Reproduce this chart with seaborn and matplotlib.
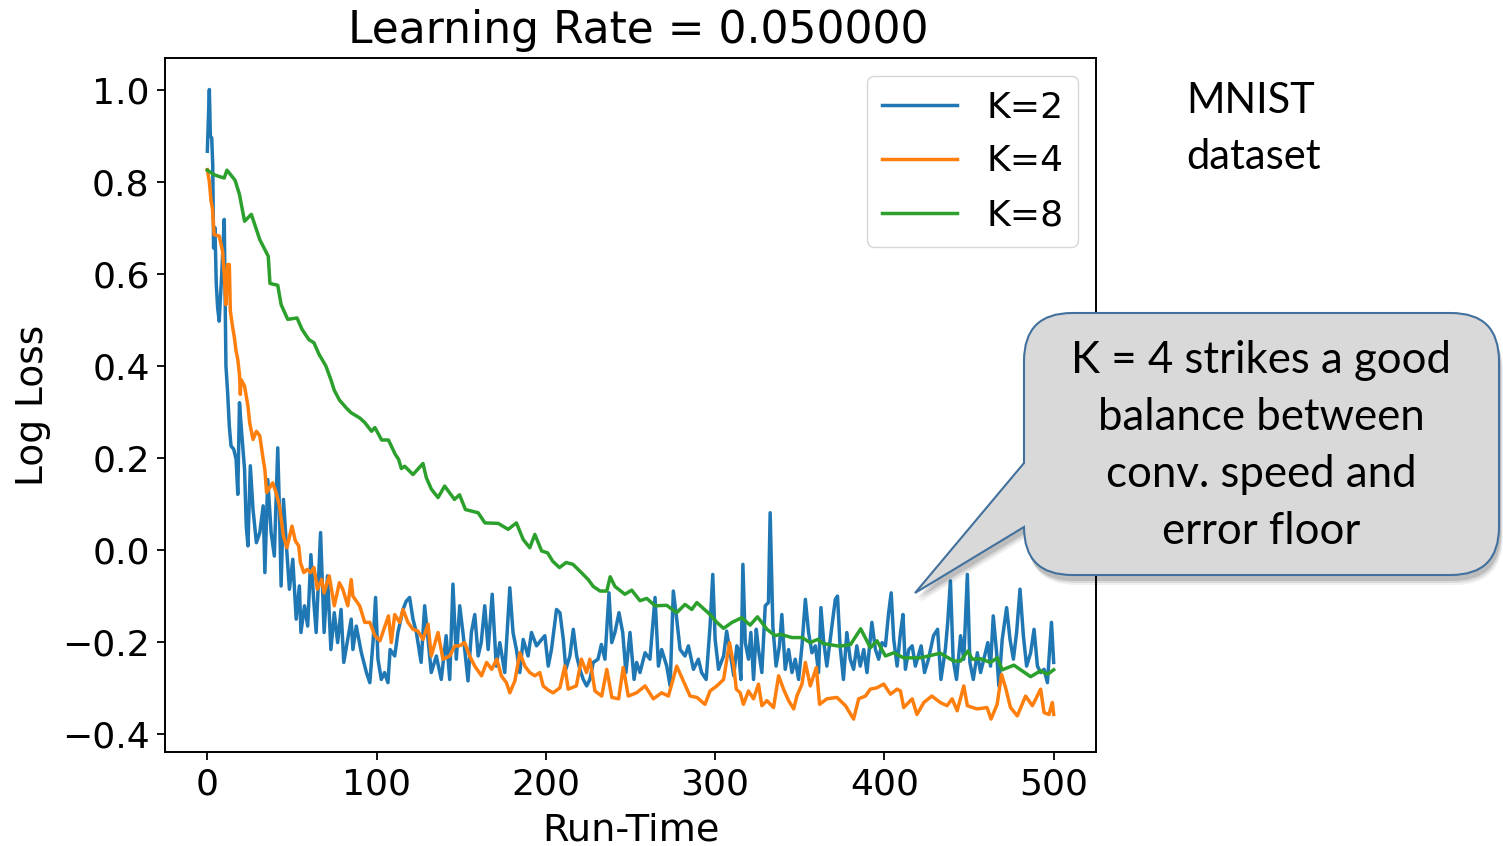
import matplotlib
matplotlib.use("Agg")
import matplotlib.pyplot as plt
import pandas as pd
import seaborn as sns
from matplotlib.patches import PathPatch
from matplotlib.path import Path

# ---- data ----
k2_t = [0, 1.2, 1.8, 2.6, 3.2, 3.7, 4.5, 5.3, 6.1, 7, 8.5, 10, 11, 12, 13, 14, 15.6, 17, 18, 19,
        20, 22, 23, 24, 25.4, 27, 29, 31, 33, 34, 35.7, 37.7, 39.6, 41.6, 42.6, 43.6, 45, 46.6, 48.5, 50.5,
        52.5, 54.4, 55.3, 57.4, 59.3, 61.2, 62.8, 64.3, 66.9, 69, 71, 73, 75, 77, 79, 80.6, 82.3, 85, 86, 88,
        91, 94, 96, 98, 99.4, 100.8, 102.8, 104.7, 106.7, 108, 110.7, 112.6, 115.6, 117.5, 119.5, 121.5,
        123.5, 126.3, 128.4, 130.4, 132.3, 135.3, 138.2, 141.1, 143.2, 145.1, 147.1, 149.1, 151, 154, 156,
        158, 160, 161.8, 163.9, 165.9, 168.3, 170.7, 172.8, 175.7, 178.7, 180.6, 182.6, 184.6, 186.6, 189.5,
        191.5, 194.5, 197.5, 199.4, 201.4, 203.3, 206.3, 208.3, 210.3, 211.8, 214.2, 216.2, 218.2, 220.1,
        222.1, 224.1, 226, 228, 230.8, 232.8, 234.9, 237.3, 238.9, 240.8, 243.2, 245.4, 247.3, 249.7, 252.1,
        253.6, 255.6, 258.6, 261.5, 264.5, 266.5, 268.4, 271.4, 273.4, 275.3, 277.3, 279.3, 282.2, 284.2,
        287.2, 290.1, 292, 294.7, 297, 298.6, 300, 302, 305, 306.8, 308.9, 311, 312.8, 313.8, 315.2, 316.4,
        317.8, 319.7, 321.1, 322.7, 324.3, 325.6, 327.6, 329.6, 331.5, 332.5, 334.1, 336, 338, 339.4, 341.4,
        343.4, 345.4, 347.3, 349.3, 351.3, 353.3, 355.2, 357.2, 359.2, 361.1, 362.5, 364, 366, 369, 371,
        372.3, 373.8, 375.8, 377.8, 379.8, 381.8, 383.7, 385.7, 387.8, 389.7, 392.6, 394.7, 396.6, 398.6,
        400.6, 402.5, 404, 405.5, 407.5, 409.5, 411, 412.4, 414.4, 416.4, 418.3, 421.7, 423.7, 426, 429,
        431.4, 433.4, 436, 437.4, 439, 440.6, 442.6, 445, 446.9, 449, 450.5, 452.5, 454.9, 456.8, 459.2,
        461.1, 462.7, 464.3, 466.3, 467.6, 469.6, 472.2, 474.2, 476.2, 478.1, 480.1, 482.1, 484, 486.4,
        488.4, 490.4, 492.3, 494.3, 496.3, 498.7, 500]
k2_loss = [0.866, 1.0, 0.899, 0.895, 0.837, 0.656, 0.70, 0.577, 0.526, 0.497, 0.598, 0.718, 0.40, 0.342,
           0.269, 0.226, 0.219, 0.197, 0.121, 0.32, 0.269, 0.175, 0.052, 0.009, 0.183, 0.088, 0.016, 0.038,
           0.096, -0.049, 0.153, 0.038, -0.013, 0.222, 0.088, -0.078, 0.11, 0.016, -0.085, -0.02, -0.15,
           -0.078, -0.179, -0.121, -0.165, -0.01, -0.107, -0.179, 0.038, -0.179, -0.056, -0.216, -0.136,
           -0.201, -0.129, -0.244, -0.208, -0.15, -0.216, -0.165, -0.223, -0.266, -0.288, -0.194, -0.103,
           -0.237, -0.281, -0.266, -0.288, -0.216, -0.23, -0.179, -0.129, -0.111, -0.103, -0.15, -0.179,
           -0.244, -0.121, -0.194, -0.266, -0.23, -0.281, -0.186, -0.281, -0.074, -0.237, -0.121, -0.179,
           -0.284, -0.179, -0.14, -0.23, -0.201, -0.121, -0.216, -0.096, -0.252, -0.201, -0.266, -0.082,
           -0.179, -0.216, -0.266, -0.194, -0.23, -0.179, -0.208, -0.194, -0.186, -0.252, -0.216, -0.129,
           -0.136, -0.194, -0.259, -0.23, -0.172, -0.23, -0.259, -0.281, -0.295, -0.281, -0.244, -0.237,
           -0.205, -0.237, -0.093, -0.201, -0.179, -0.136, -0.179, -0.266, -0.179, -0.281, -0.244, -0.266,
           -0.223, -0.237, -0.103, -0.252, -0.216, -0.252, -0.295, -0.089, -0.15, -0.216, -0.23, -0.208,
           -0.259, -0.237, -0.266, -0.281, -0.165, -0.053, -0.194, -0.259, -0.23, -0.176, -0.223, -0.273,
           -0.208, -0.216, -0.281, -0.031, -0.201, -0.237, -0.179, -0.281, -0.172, -0.216, -0.266, -0.121,
           -0.114, 0.081, -0.165, -0.252, -0.208, -0.14, -0.259, -0.216, -0.266, -0.237, -0.281, -0.208,
           -0.107, -0.179, -0.223, -0.208, -0.266, -0.125, -0.194, -0.252, -0.165, -0.107, -0.10, -0.208,
           -0.281, -0.179, -0.237, -0.259, -0.208, -0.252, -0.216, -0.266, -0.157, -0.216, -0.237, -0.201,
           -0.208, -0.136, -0.093, -0.194, -0.252, -0.179, -0.14, -0.259, -0.216, -0.208, -0.252, -0.208,
           -0.266, -0.237, -0.186, -0.172, -0.281, -0.216, -0.157, -0.067, -0.237, -0.281, -0.186, -0.237,
           -0.053, -0.244, -0.281, -0.223, -0.266, -0.23, -0.201, -0.252, -0.143, -0.223, -0.295, -0.194,
           -0.125, -0.194, -0.237, -0.179, -0.085, -0.186, -0.252, -0.223, -0.172, -0.252, -0.266, -0.259,
           -0.288, -0.157, -0.244]

k4_t = [0, 1.2, 2.2, 3, 4, 7, 9, 10, 11, 12, 13, 13.6, 15, 16, 17, 18, 19, 19.5, 20, 22, 24, 25, 27, 29,
        31, 33, 34, 35, 38.6, 40.6, 42.6, 45, 47, 50, 52, 54, 55, 57, 59, 61, 63, 65, 67.6, 69, 72, 75, 78,
        80, 83, 85, 86, 90, 93, 96, 99, 102, 105, 107, 108.7, 110.7, 113.6, 115.6, 118.5, 121.5, 124.4,
        127.4, 130.4, 132.3, 136.3, 139.2, 143.2, 146.2, 149, 152, 155, 158, 162, 165, 168, 171, 173.7,
        176.7, 178.7, 181.7, 184.6, 187.6, 190.5, 193.5, 196.4, 198.4, 201.4, 204.3, 208.3, 211.2, 213.2,
        218, 221, 224, 226, 229, 233, 236, 239, 243, 245.7, 248.7, 253.6, 258.6, 263.5, 268.4, 272.4,
        277.3, 281.2, 285.2, 289.2, 294, 297, 301, 305, 308.5, 311, 312.5, 314.8, 316.7, 319.7, 322.7,
        325.6, 327.6, 330.6, 334.5, 337.5, 340.4, 343.4, 346.4, 348.3, 351.3, 353.3, 356.2, 359.8, 361.7,
        366, 372, 377, 381.8, 384.8, 388.8, 391.7, 395.6, 399.6, 403.6, 407.5, 409.5, 411.4, 416.4, 419.2,
        423.3, 428, 433, 437, 440, 443, 446.9, 449, 454.7, 460.6, 463, 466.6, 469.2, 471.6, 474.5, 478.5,
        483.4, 487.4, 492.3, 494.3, 497.2, 499.2, 500]
k4_loss = [0.826, 0.80, 0.758, 0.743, 0.685, 0.682, 0.649, 0.598, 0.533, 0.62, 0.62, 0.519, 0.483, 0.461,
           0.432, 0.414, 0.381, 0.338, 0.37, 0.356, 0.313, 0.277, 0.24, 0.258, 0.248, 0.197, 0.175, 0.125,
           0.146, 0.125, 0.096, 0.030, 0.005, 0.052, 0.02, 0.009, -0.027, -0.049, -0.042, -0.049, -0.038,
           -0.085, -0.064, -0.093, -0.056, -0.121, -0.071, -0.085, -0.121, -0.064, -0.10, -0.121, -0.157,
           -0.157, -0.186, -0.197, -0.165, -0.143, -0.201, -0.14, -0.157, -0.129, -0.157, -0.172, -0.176,
           -0.194, -0.161, -0.23, -0.179, -0.237, -0.23, -0.208, -0.208, -0.201, -0.23, -0.252, -0.273,
           -0.244, -0.259, -0.237, -0.273, -0.288, -0.31, -0.284, -0.223, -0.252, -0.266, -0.273, -0.266,
           -0.295, -0.304, -0.31, -0.299, -0.252, -0.302, -0.295, -0.237, -0.266, -0.237, -0.306, -0.317,
           -0.259, -0.32, -0.323, -0.255, -0.317, -0.31, -0.295, -0.323, -0.31, -0.317, -0.252, -0.284,
           -0.317, -0.32, -0.335, -0.306, -0.295, -0.281, -0.201, -0.252, -0.302, -0.31, -0.335, -0.306,
           -0.323, -0.291, -0.338, -0.327, -0.342, -0.273, -0.302, -0.327, -0.345, -0.317, -0.291, -0.244,
           -0.295, -0.255, -0.335, -0.323, -0.32, -0.338, -0.367, -0.323, -0.317, -0.302, -0.299, -0.291,
           -0.313, -0.302, -0.306, -0.342, -0.323, -0.357, -0.331, -0.317, -0.331, -0.338, -0.323, -0.349,
           -0.295, -0.338, -0.345, -0.342, -0.367, -0.335, -0.27, -0.299, -0.342, -0.36, -0.317, -0.338,
           -0.302, -0.353, -0.357, -0.331, -0.357]

k8_t = [0, 4, 8, 10, 11.6, 16.4, 19, 22, 26, 31, 36, 37, 41.6, 43.6, 47.5, 53, 56, 60, 63, 66, 70, 73, 75,
        78, 82, 85, 90, 93, 97, 99, 103, 107, 111, 113, 114.6, 116.6, 121.5, 127.4, 129.4, 132.4, 136.3,
        140.2, 146, 149, 152.5, 160, 164, 171.8, 177.7, 182.6, 186.6, 190.5, 193.5, 197.5, 201, 204, 208,
        212, 216, 221, 225, 228, 232, 236, 238, 240.8, 246.7, 250.7, 255.6, 259.6, 264.5, 271.4, 277.3,
        282.2, 286.2, 289.2, 297, 301, 305, 310, 315.7, 320.7, 325, 330.6, 335.5, 338.5, 345.4, 351.3,
        356.2, 360.5, 364, 372, 375, 380, 386, 391.7, 395.6, 400.6, 405.5, 411.4, 415.4, 421.3, 433, 441,
        445, 449.3, 451.9, 456.8, 462.7, 466.7, 469.6, 476.5, 486.4, 492.3, 496.3, 500]
k8_loss = [0.825, 0.815, 0.81, 0.808, 0.825, 0.803, 0.772, 0.714, 0.729, 0.674, 0.638, 0.579, 0.575, 0.533,
           0.501, 0.504, 0.479, 0.457, 0.45, 0.425, 0.40, 0.37, 0.347, 0.326, 0.309, 0.298, 0.287, 0.277,
           0.258, 0.266, 0.239, 0.239, 0.208, 0.197, 0.177, 0.182, 0.164, 0.188, 0.157, 0.132, 0.114, 0.139,
           0.11, 0.12, 0.088, 0.081, 0.059, 0.058, 0.045, 0.059, 0.023, 0.005, 0.034, -0.002, -0.006, -0.024,
           -0.038, -0.027, -0.031, -0.049, -0.064, -0.079, -0.089, -0.089, -0.058, -0.079, -0.096, -0.087,
           -0.11, -0.105, -0.121, -0.12, -0.136, -0.118, -0.129, -0.114, -0.14, -0.157, -0.17, -0.157,
           -0.147, -0.163, -0.145, -0.172, -0.186, -0.183, -0.19, -0.19, -0.201, -0.194, -0.203, -0.208,
           -0.208, -0.205, -0.171, -0.212, -0.197, -0.23, -0.223, -0.234, -0.234, -0.234, -0.224, -0.241,
           -0.241, -0.219, -0.237, -0.236, -0.244, -0.234, -0.26, -0.25, -0.275, -0.262, -0.27, -0.26]

series_labels = ["K=2", "K=4", "K=8"]
series_colors = ["#1f77b4", "#ff7f0e", "#2ca02c"]
x_ticks = [0, 100, 200, 300, 400, 500]
y_ticks = [-0.4, -0.2, 0.0, 0.2, 0.4, 0.6, 0.8, 1.0]
callout_text = "K = 4 strikes a good\nbalance between\nconv. speed and\nerror floor"

W, H = 1503, 846
fig = plt.figure(figsize=(W / 100, H / 100), dpi=100)
ax = fig.add_axes([165 / W, 1 - 752 / H, (1096 - 165) / W, (752 - 58) / H])

for t, loss, lab, col in zip([k2_t, k4_t, k8_t], [k2_loss, k4_loss, k8_loss], series_labels, series_colors):
    df = pd.DataFrame({"Run-Time": t, "Log Loss": loss})
    sns.lineplot(data=df, x="Run-Time", y="Log Loss", ax=ax, color=col, label=lab,
                 linewidth=2.5, estimator=None, sort=False)

ax.set_xlim(-25, 525)
ax.set_ylim(-0.4385, 1.0685)
ax.set_xticks(x_ticks)
ax.set_yticks(y_ticks)
ax.tick_params(labelsize=26, length=6, width=1.3, pad=5)
for s in ax.spines.values():
    s.set_linewidth(1.4)
ax.set_xlabel("Run-Time", fontsize=27.5, labelpad=8)
ax.set_ylabel("Log Loss", fontsize=27, labelpad=8)
ax.set_title("Learning Rate = 0.050000", fontsize=31.7, pad=11, x=0.508)
ax.legend(loc="upper right", fontsize=26, handlelength=2.1, labelspacing=0.55)

# side note
fig.text(1186 / W, 1 - 129 / H, "MNIST\ndataset", fontsize=30, family="Lato",
         ha="left", va="center", linespacing=1.6)

# callout bubble (pixel coords, y measured from top)
L, R, T, B, r = 1024, 1499, 313, 575, 48
y_up, y_low, tip = 463, 527, (915, 593)
pts = [(L + r, T), (R - r, T), (R, T), (R, T + r), (R, B - r), (R, B), (R - r, B),
       (L + r, B), (L, B), (L, B - r), (L, y_low), tip, (L, y_up), (L, T + r), (L, T), (L + r, T), (L + r, T)]
codes = [Path.MOVETO, Path.LINETO, Path.CURVE3, Path.CURVE3, Path.LINETO, Path.CURVE3, Path.CURVE3,
         Path.LINETO, Path.CURVE3, Path.CURVE3, Path.LINETO, Path.LINETO, Path.LINETO, Path.LINETO,
         Path.CURVE3, Path.CURVE3, Path.CLOSEPOLY]


def bubble(dx=0, dy=0):
    return Path([((x + dx) / W, 1 - (y + dy) / H) for x, y in pts], codes)


for dx, dy, a in [(4, 10, 0.06), (3, 8, 0.09), (2, 6, 0.13)]:
    fig.add_artist(PathPatch(bubble(dx, dy), transform=fig.transFigure, facecolor="black",
                             edgecolor="none", alpha=a, zorder=4))
fig.add_artist(PathPatch(bubble(), transform=fig.transFigure, facecolor="#d9d9d9",
                         edgecolor="#41719c", linewidth=1.5, zorder=5))
fig.text(1261 / W, 1 - 446 / H, callout_text, fontsize=31.5, family="Lato", ha="center",
         va="center", linespacing=1.48, zorder=6)

fig.savefig("out.png", dpi=100)
